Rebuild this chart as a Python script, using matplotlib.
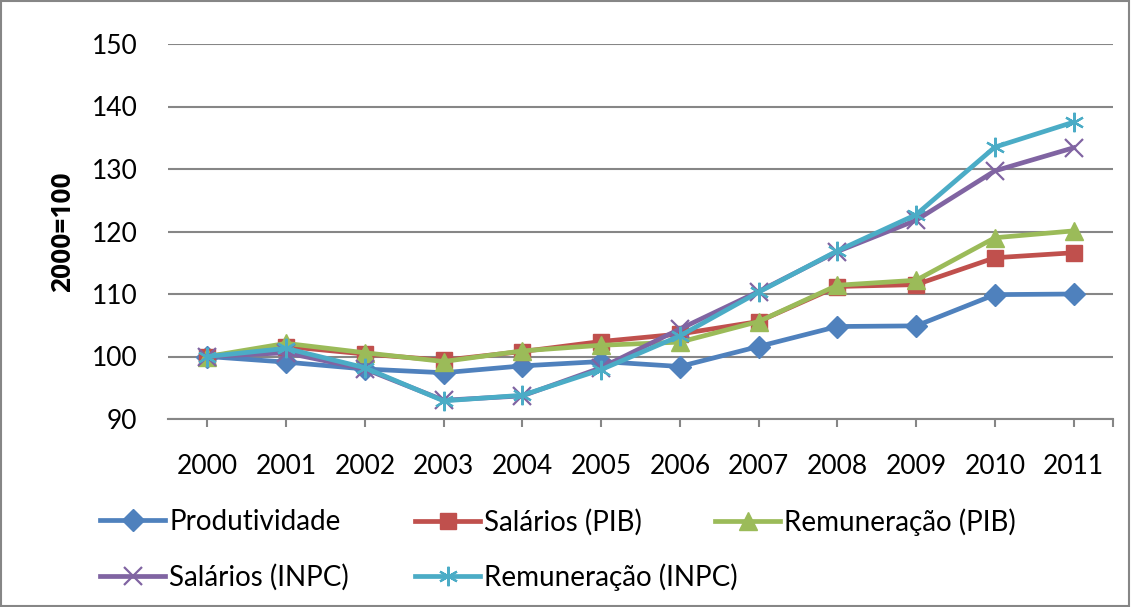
import numpy as np
import matplotlib
matplotlib.use('Agg')
import matplotlib.pyplot as plt
from matplotlib.patches import Rectangle

plt.rcParams['font.family'] = ['Lato', 'DejaVu Sans']

# dados (índice 2000=100)
anos = ['2000', '2001', '2002', '2003', '2004', '2005', '2006',
        '2007', '2008', '2009', '2010', '2011']
produtividade = [100, 99.1, 98.0, 97.4, 98.5, 99.2, 98.4, 101.6, 104.8, 104.9, 109.9, 110.0]
salarios_pib = [100, 101.6, 100.4, 99.4, 100.8, 102.4, 103.6, 105.6, 111.2, 111.5, 115.8, 116.6]
remuneracao_pib = [100, 102.1, 100.6, 99.2, 100.9, 101.8, 102.3, 105.6, 111.4, 112.2, 119.0, 120.1]
salarios_inpc = [100, 100.6, 98.0, 93.0, 93.7, 98.2, 104.4, 110.4, 116.8, 121.8, 129.7, 133.4]
remuneracao_inpc = [100, 101.3, 98.2, 92.9, 93.8, 97.9, 103.3, 110.3, 116.9, 122.7, 133.5, 137.5]

y_ticks = [90, 100, 110, 120, 130, 140, 150]

fig = plt.figure(figsize=(11.31, 6.07), dpi=100)
ax = fig.add_axes([168/1131, 1 - 419/607, (1113 - 168)/1131, (419 - 44)/607])

x = np.arange(len(anos))
lw = 3.4
l1, = ax.plot(x, produtividade, color='#4F81BD', lw=lw, marker='D', ms=11, label='Produtividade')
l2, = ax.plot(x, salarios_pib, color='#C0504D', lw=lw, marker='s', ms=12, label='Salários (PIB)')
l3, = ax.plot(x, remuneracao_pib, color='#9BBB59', lw=lw, marker='^', ms=13, label='Remuneração (PIB)')
l4, = ax.plot(x, salarios_inpc, color='#8064A2', lw=lw, marker='x', ms=13, mew=1.6, label='Salários (INPC)')
l5, = ax.plot(x, remuneracao_inpc, color='#4BACC6', lw=lw, marker=(6, 2, 0), ms=14, mew=1.6, label='Remuneração (INPC)')

ax.set_xlim(-0.5, len(anos) - 0.5)
ax.set_ylim(90, 150)
ax.set_yticks(y_ticks)
ax.set_xticks(x)
ax.set_xticklabels(anos)
ax.set_xticks([len(anos) - 0.5], minor=True)

for s in ['top', 'right', 'left']:
    ax.spines[s].set_visible(False)
ax.spines['bottom'].set_color('#868686')
ax.spines['bottom'].set_linewidth(1.5)
ax.grid(axis='y', color='#868686', lw=1.5)
ax.set_axisbelow(True)

ax.tick_params(axis='y', length=0, pad=22, labelsize=19)
ax.tick_params(axis='x', which='both', length=6, width=1.5, color='#868686', pad=19, labelsize=19)
ax.set_ylabel('2000=100', fontsize=19, fontweight='bold', family='Open Sans', labelpad=11)

# legenda: cada entrada posicionada como no original
posicoes = [(l1, 100, 522), (l2, 415, 522), (l3, 715, 522),
            (l4, 100, 577), (l5, 415, 577)]
for h, px, py in posicoes:
    leg = fig.legend(handles=[h], labels=[h.get_label()], loc='center left',
                     bbox_to_anchor=(px/1131, 1 - py/607), frameon=False,
                     fontsize=20, handlelength=2.35, handletextpad=0.15,
                     borderpad=0, borderaxespad=0)

fig.patches.append(Rectangle((0.001, 0.001), 0.997, 0.997, transform=fig.transFigure,
                             fill=False, edgecolor='#868686', lw=1.5))

fig.savefig('out.png', dpi=100)
